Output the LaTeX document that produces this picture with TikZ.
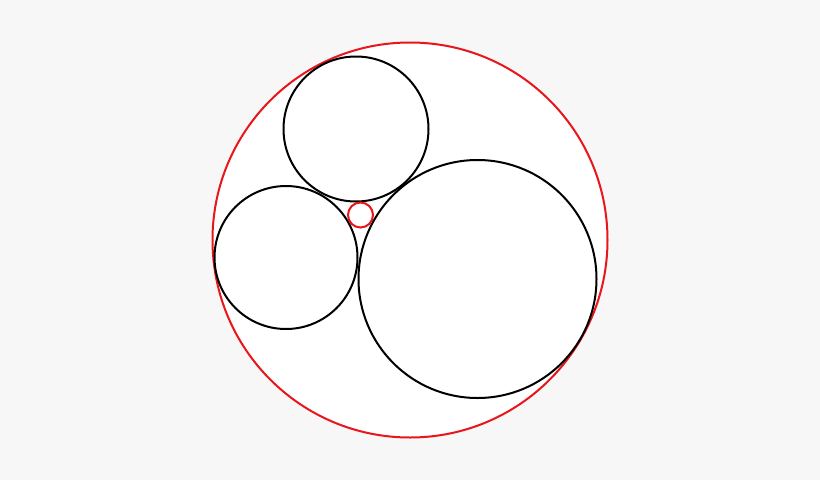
\documentclass[tikz,border=0pt]{standalone}
\definecolor{bg}{HTML}{F7F7F7}
\definecolor{redc}{HTML}{E8161B}
\tikzset{
  outerc/.style={draw=redc, line width=2pt, fill=white},
  innerc/.style={draw=black, line width=2pt},
  smallc/.style={draw=redc, line width=2pt}
}
\begin{document}
\begin{tikzpicture}[x=1pt,y=-1pt]
\fill[bg] (0,0) rectangle (820,480);
\useasboundingbox (0,0) rectangle (820,480);
\draw[outerc] (410,240) circle[radius=197.5];
\draw[innerc] (356,129) circle[radius=72.5];
\draw[innerc] (286,257.5) circle[radius=71.5];
\draw[innerc] (477.5,279) circle[radius=119];
\draw[smallc] (360.5,215) circle[radius=12.5];
\end{tikzpicture}
\end{document}
